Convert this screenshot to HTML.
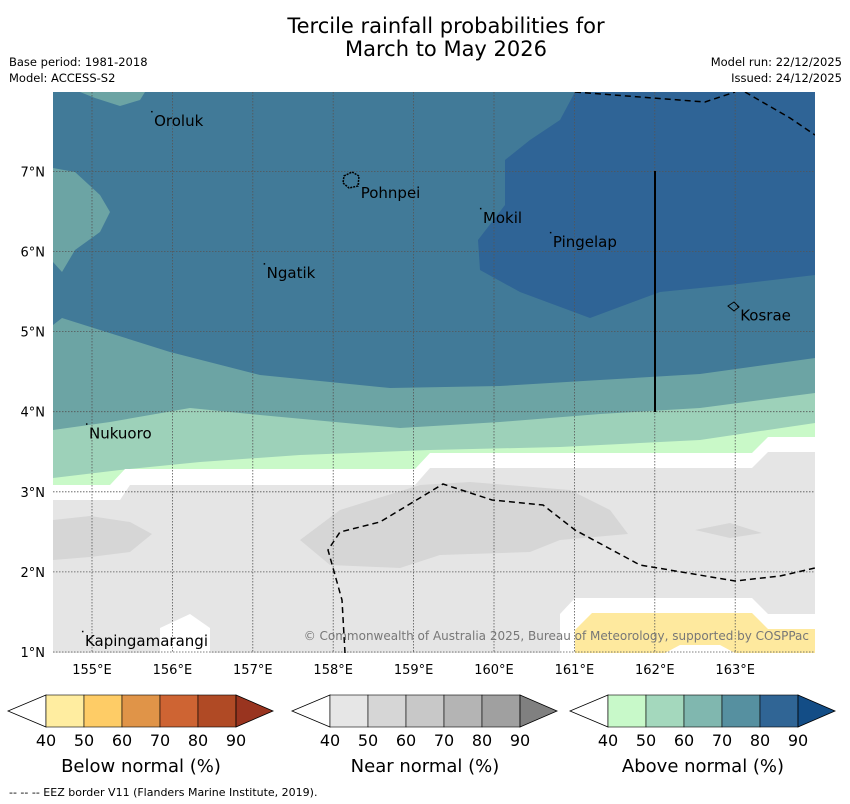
<!DOCTYPE html>
<html><head><meta charset="utf-8"><style>
body{margin:0;background:#fff;font-family:"DejaVu Sans","Liberation Sans",sans-serif;}
svg{display:block}
</style></head><body>
<svg width="850" height="804" viewBox="0 0 850 804" font-family="DejaVu Sans, Liberation Sans, sans-serif">
<text x="446" y="33" font-size="21" text-anchor="middle">Tercile rainfall probabilities for</text>
<text x="446" y="56" font-size="21" text-anchor="middle">March to May 2026</text>
<text x="9" y="66" font-size="11.5">Base period: 1981-2018</text>
<text x="9" y="82" font-size="11.5">Model: ACCESS-S2</text>
<text x="842" y="66" font-size="11.5" text-anchor="end">Model run: 22/12/2025</text>
<text x="842" y="82" font-size="11.5" text-anchor="end">Issued: 24/12/2025</text>
<defs><clipPath id="mc"><rect x="53" y="92" width="762" height="561"/></clipPath></defs>
<g clip-path="url(#mc)">
<rect x="53" y="92" width="762" height="561" fill="#417a98"/>
<path d="M575 92 L815 92 L815 275 L730 285 L660 292 L590 318 L520 292 L480 270 L478 240 L505 205 L505 160 L530 140 L560 120 Z" fill="#2f6496"/>
<path d="M53 168 L75 172 L100 195 L110 212 L100 232 L75 250 L62 272 L53 262 Z" fill="#6ca4a4"/>
<path d="M80 92 L145 92 L140 100 L120 106 L95 98 Z" fill="#6ca4a4"/>
<path d="M53 325 L62 318 L100 330 L170 352 L260 375 L390 388 L500 386 L600 380 L700 374 L815 358 L815 653 L53 653 Z" fill="#6ca4a4"/>
<path d="M53 430 L110 422 L190 408 L260 415 L400 428 L500 422 L600 414 L700 408 L815 393 L815 653 L53 653 Z" fill="#9dd1b9"/>
<path d="M53 478 L120 470 L200 462 L300 455 L430 450 L560 447 L700 440 L815 423 L815 653 L53 653 Z" fill="#c9f9c8"/>
<path d="M53 485 L110 485 L125 469 L415 469 L430 453 L752 453 L768 437 L815 437 L815 653 L53 653 Z" fill="#ffffff"/>
<path d="M53 500 L120 500 L130 485 L415 485 L430 468 L752 468 L768 452 L815 452 L815 653 L53 653 Z" fill="#e5e5e5"/>
<path d="M300 540 L340 510 L420 485 L470 482 L570 490 L610 510 L628 534 L560 540 L530 552 L440 555 L400 568 L330 565 Z" fill="#d6d6d6"/>
<path d="M53 520 L90 516 L130 522 L152 534 L130 552 L90 557 L53 560 Z" fill="#d6d6d6"/>
<path d="M695 530 L730 523 L762 533 L730 538 Z" fill="#d6d6d6"/>
<path d="M560 653 L560 614 L575 598 L752 598 L768 614 L815 614 L815 653 Z" fill="#ffffff"/>
<path d="M575 653 L575 630 L592 613 L752 613 L768 629 L815 629 L815 653 L735 653 L720 645 L680 645 L665 653 Z" fill="#fee99e"/>
<path d="M160 653 L160 628 L190 614 L210 628 L210 653 Z" fill="#ffffff"/>
<g id="grid" stroke="#555" stroke-width="0.8" stroke-dasharray="1.5,1.5"></g>
<g fill="none" stroke="#000" stroke-width="1.5" stroke-dasharray="6,4">
<path d="M575 92 L705 102 L735 92"/>
<path d="M745 92 L790 118 L815 135"/>
<path d="M345 653 L342 600 L328 550 L340 532 L380 522 L443 484 L492 500 L543 505 L575 530 L640 565 L735 581 L780 576 L815 568"/>
</g>
<line x1="655" y1="171" x2="655" y2="412" stroke="#000" stroke-width="2"/>
<path d="M344 176 L352 172 L359 176 L358 186 L349 188 L343 183 Z" fill="none" stroke="#000" stroke-width="1.5" stroke-dasharray="2,1"/>
<path d="M728 306 L734 302 L739 307 L734 311 Z" fill="none" stroke="#000" stroke-width="1"/>
<g id="places" font-size="15" fill="#000"></g>
<text x="809" y="640" font-size="12" fill="#777" text-anchor="end">© Commonwealth of Australia 2025, Bureau of Meteorology, supported by COSPPac</text>
</g>
<g id="axes" font-size="13"></g>
<g id="cbars"></g>
<text x="9" y="796" font-size="11">--  --  -- EEZ border V11 (Flanders Marine Institute, 2019).</text>
</svg>
<script>
const NS="http://www.w3.org/2000/svg";
const lonTicks=[155,156,157,158,159,160,161,162,163];
const latTicks=[1,2,3,4,5,6,7];
const placeNames=["Oroluk","Pohnpei","Mokil","Pingelap","Ngatik","Kosrae","Nukuoro","Kapingamarangi"];
const placeLon=[155.76,158.33,159.85,160.72,157.16,163.05,154.95,154.9];
const placeLat=[7.73,6.83,6.52,6.22,5.83,5.30,3.83,1.24];
const cbTicks=[40,50,60,70,80,90];
const cbTitles=["Below normal (%)","Near normal (%)","Above normal (%)"];
const cbColors=[["#fff","#ffeda0","#fecc66","#e09448","#ce6433","#b04a25","#99341f"],["#fff","#e6e6e6","#d6d6d6","#c8c8c8","#b4b4b4","#a0a0a0","#808080"],["#fff","#c8f9c9","#a4d8bd","#80b7af","#5690a0","#306595","#134d86"]];
function X(lon){return 92+(lon-155)*80.4;}
function Y(lat){return 652-(lat-1)*80.1;}
function mk(t,a,p,txt){const e=document.createElementNS(NS,t);for(const k in a)e.setAttribute(k,a[k]);if(txt!==undefined)e.textContent=txt;p.appendChild(e);return e;}
const grid=document.getElementById('grid'),axes=document.getElementById('axes');
lonTicks.forEach(v=>{const l=mk('line',{x1:X(v),x2:X(v),y1:92,y2:653},grid);


const t=mk('text',{x:X(v),y:674,'text-anchor':'middle'},axes,v+'°E');

});
latTicks.forEach(v=>{const l=mk('line',{x1:53,x2:815,y1:Y(v),y2:Y(v)},grid);


const t=mk('text',{x:45,y:Y(v)+5,'text-anchor':'end'},axes,v+'°N');

});
const pl=document.getElementById('places');
placeNames.forEach((n,i)=>{const x=X(placeLon[i]),y=Y(placeLat[i]);
const d=mk('rect',{x:x-2,y:y-2,width:1.5,height:1.5,fill:'#000'},pl);


const t=mk('text',{x:x+1,y:y+13},pl,n);

});
const cb=document.getElementById('cbars');
const cbX=[46,330,608],cbW=38,cbTop=695,cbH=32;
cbTitles.forEach((title,j)=>{const x0=cbX[j];const g=mk('g',{},cb);


mk('polygon',{points:`${x0},${cbTop} ${x0-38},${cbTop+cbH/2} ${x0},${cbTop+cbH}`,fill:cbColors[j][0],stroke:'#000','stroke-width':0.8},g);
for(let i=1;i<6;i++)mk('rect',{x:x0+(i-1)*cbW,y:cbTop,width:cbW,height:cbH,fill:cbColors[j][i],stroke:'#000','stroke-width':0.6},g);
const xe=x0+5*cbW;
mk('polygon',{points:`${xe},${cbTop} ${xe+37},${cbTop+cbH/2} ${xe},${cbTop+cbH}`,fill:cbColors[j][6],stroke:'#000','stroke-width':0.8},g);
cbTicks.forEach((v,i)=>{const t=mk('text',{x:x0+i*cbW,y:746,'font-size':16,'text-anchor':'middle'},g,v);

});
const tt=mk('text',{x:x0+2.5*cbW,y:772,'font-size':18,'text-anchor':'middle'},g,title);

});
</script>
</body></html>
